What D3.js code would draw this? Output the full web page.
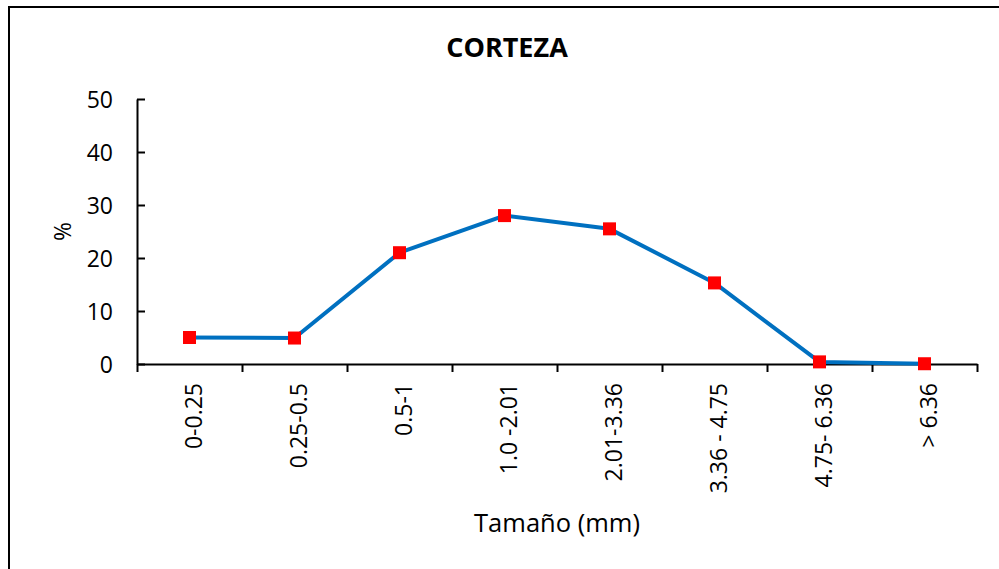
<!DOCTYPE html>
<html>
<head>
<meta charset="utf-8">
<script src="https://cdn.jsdelivr.net/npm/d3@7"></script>
<style>
  body { margin: 0; background: #fff; }
  svg { display: block; font-family: "Open Sans", sans-serif; }
</style>
</head>
<body>
<div id="chart"></div>
<script>
// data
const categories = ["0-0.25", "0.25-0.5", "0.5-1", "1.0 -2.01", "2.01-3.36", "3.36 - 4.75", "4.75- 6.36", "> 6.36"];
const percent = [5.0, 4.9, 21.0, 28.0, 25.5, 15.3, 0.4, 0.05];
const yTicks = [0, 10, 20, 30, 40, 50];

const W = 999, H = 569;
const plot = { left: 137, right: 977, top: 99, bottom: 364 };

const svg = d3.select("#chart").append("svg")
  .attr("width", W)
  .attr("height", H);

// chart frame (right and bottom edges fall outside the picture)
svg.append("rect")
  .attr("x", 9).attr("y", 7)
  .attr("width", 1100).attr("height", 700)
  .attr("fill", "none")
  .attr("stroke", "#000")
  .attr("stroke-width", 2);

const x = d3.scaleBand()
  .domain(categories)
  .range([plot.left, plot.right])
  .padding(0);

const xEdge = d3.scaleLinear()
  .domain([0, categories.length])
  .range([plot.left, plot.right]);

const y = d3.scaleLinear()
  .domain([0, 50])
  .range([plot.bottom, plot.top]);

// y axis, ticks pointing inside
const yAxis = svg.append("g")
  .attr("transform", `translate(${plot.left},0)`)
  .call(d3.axisLeft(y).tickValues(yTicks).tickSize(-8).tickSizeOuter(0).tickPadding(24));
yAxis.selectAll("path, line").attr("stroke", "#000").attr("stroke-width", 2);
yAxis.selectAll("text")
  .attr("font-family", "Open Sans, sans-serif")
  .attr("font-size", 23)
  .attr("fill", "#000")
  .attr("dy", "0.36em");

// x axis, ticks on category boundaries
const xAxis = svg.append("g")
  .attr("transform", `translate(0,${plot.bottom})`)
  .call(d3.axisBottom(xEdge).tickValues(d3.range(categories.length + 1)).tickSize(8).tickSizeOuter(0).tickFormat(""));
xAxis.selectAll("path, line").attr("stroke", "#000").attr("stroke-width", 2);

// rotated category labels
svg.selectAll(".xlab")
  .data(categories)
  .enter()
  .append("text")
  .attr("class", "xlab")
  .attr("transform", (d) => `translate(${x(d) + x.bandwidth() / 2 + 12},383) rotate(-90)`)
  .attr("text-anchor", "end")
  .attr("font-size", 23)
  .attr("fill", "#000")
  .text((d) => d);

// series line
const line = d3.line()
  .x((d, i) => x(categories[i]) + x.bandwidth() / 2)
  .y((d) => y(d));

svg.append("path")
  .datum(percent)
  .attr("d", line)
  .attr("fill", "none")
  .attr("stroke", "#0070C0")
  .attr("stroke-width", 4)
  .attr("stroke-linejoin", "round");

// square markers
svg.selectAll(".marker")
  .data(percent)
  .enter()
  .append("rect")
  .attr("class", "marker")
  .attr("x", (d, i) => x(categories[i]) + x.bandwidth() / 2 - 6.5)
  .attr("y", (d) => y(d) - 6.5)
  .attr("width", 13)
  .attr("height", 13)
  .attr("fill", "#FF0000");

// titles
svg.append("text")
  .attr("x", 507).attr("y", 57)
  .attr("text-anchor", "middle")
  .attr("font-size", 27)
  .attr("font-weight", "bold")
  .attr("fill", "#000")
  .text("CORTEZA");

svg.append("text")
  .attr("x", 557).attr("y", 532)
  .attr("text-anchor", "middle")
  .attr("font-size", 25.5)
  .attr("fill", "#000")
  .text("Tamaño (mm)");

svg.append("text")
  .attr("transform", `translate(71,${(plot.top + plot.bottom) / 2}) rotate(-90)`)
  .attr("text-anchor", "middle")
  .attr("font-size", 23)
  .attr("fill", "#000")
  .text("%");
</script>
</body>
</html>
